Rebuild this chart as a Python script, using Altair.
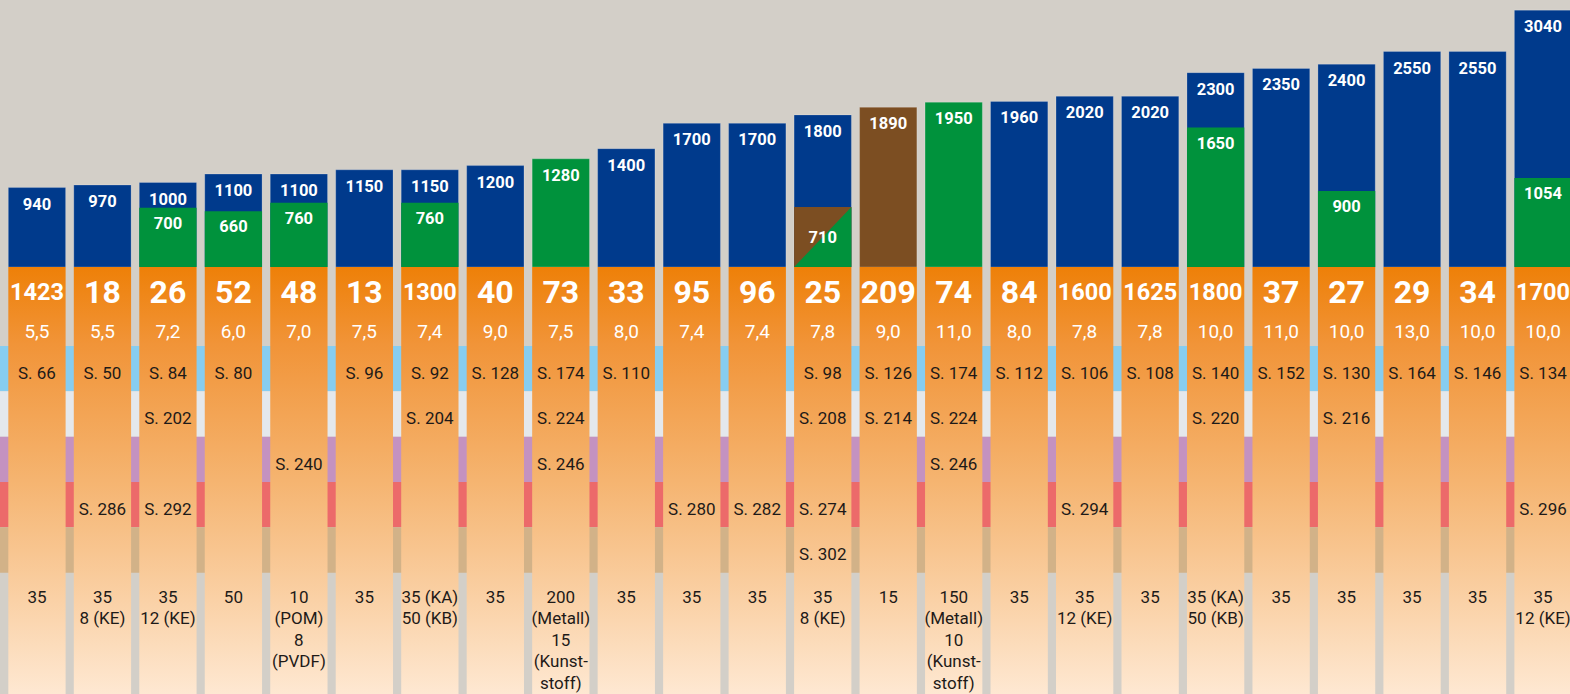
import altair as alt
import pandas as pd

# ---------------------------------------------------------------- data
totals = [940, 970, 1000, 1100, 1100, 1150, 1150, 1200, 1280, 1400, 1700, 1700,
          1800, 1890, 1950, 1960, 2020, 2020, 2300, 2350, 2400, 2550, 2550, 3040]
total_kind = ["blue"] * 24
total_kind[8] = "green"
total_kind[13] = "brown"
total_kind[14] = "green"

lower = [None, None, 700, 660, 760, None, 760, None, None, None, None, None,
         710, None, None, None, None, None, 1650, None, 900, None, None, 1054]
split = [i == 12 for i in range(24)]  # brown/green diagonal split segment

big = ["1423", "18", "26", "52", "48", "13", "1300", "40", "73", "33", "95", "96",
       "25", "209", "74", "84", "1600", "1625", "1800", "37", "27", "29", "34", "1700"]
small = ["5,5", "5,5", "7,2", "6,0", "7,0", "7,5", "7,4", "9,0", "7,5", "8,0", "7,4", "7,4",
         "7,8", "9,0", "11,0", "8,0", "7,8", "7,8", "10,0", "11,0", "10,0", "13,0", "10,0", "10,0"]

page_rows = [
    ["S. 66", "S. 50", "S. 84", "S. 80", "", "S. 96", "S. 92", "S. 128", "S. 174", "S. 110", "", "",
     "S. 98", "S. 126", "S. 174", "S. 112", "S. 106", "S. 108", "S. 140", "S. 152", "S. 130", "S. 164", "S. 146", "S. 134"],
    ["", "", "S. 202", "", "", "", "S. 204", "", "S. 224", "", "", "",
     "S. 208", "S. 214", "S. 224", "", "", "", "S. 220", "", "S. 216", "", "", ""],
    ["", "", "", "", "S. 240", "", "", "", "S. 246", "", "", "",
     "", "", "S. 246", "", "", "", "", "", "", "", "", ""],
    ["", "S. 286", "S. 292", "", "", "", "", "", "", "", "S. 280", "S. 282",
     "S. 274", "", "", "", "S. 294", "", "", "", "", "", "", "S. 296"],
    ["", "", "", "", "", "", "", "", "", "", "", "",
     "S. 302", "", "", "", "", "", "", "", "", "", "", ""],
]

bottom = ["35", "35\n8 (KE)", "35\n12 (KE)", "50", "10\n(POM)\n8\n(PVDF)", "35",
          "35 (KA)\n50 (KB)", "35", "200\n(Metall)\n15\n(Kunst-\nstoff)", "35", "35", "35",
          "35\n8 (KE)", "15", "150\n(Metall)\n10\n(Kunst-\nstoff)", "35", "35\n12 (KE)", "35",
          "35 (KA)\n50 (KB)", "35", "35", "35", "35", "35\n12 (KE)"]

band_names = ["b1", "b2", "b3", "b4", "b5"]
band_colors = ["#87cdf0", "#e4e8ec", "#c492c0", "#ec6a6a", "#d2b288"]

# ---------------------------------------------------------------- style
FONT = "Roboto, Liberation Sans, sans-serif"
BG = "#d3cfc8"
W = 1570
TOP_H = 267
BOT_H = 427

cols = list(range(24))
df = pd.DataFrame({
    "col": cols,
    "total": totals,
    "total_kind": total_kind,
    "lower": lower,
    "lower_kind": ["brown" if s else "green" for s in split],
    "split": split,
})

x_scale = alt.Scale(range=[0, 1580], paddingInner=0.125, paddingOuter=0.127)
x = alt.X("col:O", scale=x_scale, axis=None)
kind_scale = alt.Scale(domain=["blue", "green", "brown"],
                       range=["#003a8c", "#00923c", "#7c4e22"])
y_val = alt.Scale(domain=[0, 3160])

# ---------------------------------------------------------------- top: bars
base = alt.Chart(df).encode(x=x)

total_bars = base.mark_bar(clip=True, stroke="#ffffff", strokeOpacity=0.2, strokeWidth=1).encode(
    y=alt.Y("total:Q", scale=y_val, axis=None),
    color=alt.Color("total_kind:N", scale=kind_scale, legend=None),
)
lower_bars = base.transform_filter("isValid(datum.lower)").mark_bar(clip=True).encode(
    y=alt.Y("lower:Q", scale=y_val, axis=None),
    color=alt.Color("lower_kind:N", scale=kind_scale, legend=None),
)
triangle = base.transform_filter("datum.split").transform_calculate(
    mid="datum.lower / 2"
).mark_point(
    shape="M 1 -1.047 L 1 1.047 L -1 1.047 Z", filled=True, fill="#00923c",
    size=3283, strokeWidth=0, opacity=1, clip=True,
).encode(y=alt.Y("mid:Q", scale=y_val, axis=None))

label_style = dict(font=FONT, fontWeight="bold", fontSize=16.5, color="white", baseline="middle")
total_labels = base.mark_text(dy=17, **label_style).encode(
    y=alt.Y("total:Q", scale=y_val, axis=None),
    text=alt.Text("total:Q", format="d"),
)
lower_labels = base.transform_filter("isValid(datum.lower) && !datum.split").mark_text(
    dy=16, **label_style
).encode(
    y=alt.Y("lower:Q", scale=y_val, axis=None),
    text=alt.Text("lower:Q", format="d"),
)
split_labels = base.transform_filter("datum.split").transform_calculate(
    mid="datum.lower / 2"
).mark_text(dy=1, **label_style).encode(
    y=alt.Y("mid:Q", scale=y_val, axis=None),
    text=alt.Text("lower:Q", format="d"),
)

top = alt.layer(total_bars, lower_bars, triangle, total_labels, lower_labels,
                split_labels).properties(width=W, height=TOP_H)

# ---------------------------------------------------------------- bottom: table
# row coordinate: band k spans [k, k+1]
y_row = alt.Scale(domain=[-1.7424, 7.6753], reverse=True)

bands = pd.DataFrame({"band": band_names, "r0": [0, 1, 2, 3, 4], "r1": [1, 2, 3, 4, 5]})
band_rects = alt.Chart(bands).mark_rect().encode(
    x=alt.value(0), x2=alt.value("width"),
    y=alt.Y("r0:Q", scale=y_row, axis=None), y2="r1:Q",
    color=alt.Color("band:N", scale=alt.Scale(domain=band_names, range=band_colors), legend=None),
)

gradient = alt.LinearGradient(
    gradient="linear", x1=0, x2=0, y1=0, y2=1,
    stops=[
        alt.GradientStop(color="#ee8008", offset=0),
        alt.GradientStop(color="#f19438", offset=0.18),
        alt.GradientStop(color="#f5b470", offset=0.5),
        alt.GradientStop(color="#fad1a6", offset=0.78),
        alt.GradientStop(color="#fee8d2", offset=1),
    ],
)
columns = alt.Chart(df).mark_rect(fill=gradient, clip=True).encode(
    x=x, y=alt.value(0), y2=alt.value("height"),
)

BIG_ROW = -1.1733
SMALL_ROW = -0.3088
PAGE_OFFSET = 0.62
BOTTOM_ROW = 5.5514
LINE_STEP = 0.4742

big_df = pd.DataFrame({"col": cols, "text": big, "r": BIG_ROW})
small_df = pd.DataFrame({"col": cols, "text": small, "r": SMALL_ROW})

records = []
for k, row in enumerate(page_rows):
    for c, t in enumerate(row):
        if t:
            records.append({"col": c, "text": t, "r": k + PAGE_OFFSET})
for c, t in enumerate(bottom):
    for j, line in enumerate(t.split("\n")):
        records.append({"col": c, "text": line, "r": BOTTOM_ROW + j * LINE_STEP})
dark_df = pd.DataFrame(records)

big_text = alt.Chart(big_df).mark_text(
    font=FONT, fontWeight="bold", color="white", baseline="middle", clip=True
).encode(
    x=x, y=alt.Y("r:Q", scale=y_row, axis=None), text="text:N",
    size=alt.condition("length(datum.text) > 3", alt.value(23.5), alt.value(32)),
)
small_text = alt.Chart(small_df).mark_text(
    font=FONT, fontSize=19, color="white", baseline="middle", clip=True
).encode(x=x, y=alt.Y("r:Q", scale=y_row, axis=None), text="text:N")
dark_text = alt.Chart(dark_df).mark_text(
    font=FONT, fontSize=17, color="#1e1a18", baseline="middle", clip=True
).encode(x=x, y=alt.Y("r:Q", scale=y_row, axis=None), text="text:N")

bottom_panel = alt.layer(band_rects, columns, big_text, small_text, dark_text).properties(
    width=W, height=BOT_H
)

chart = alt.vconcat(top, bottom_panel, spacing=0).resolve_scale(
    color="independent"
).properties(padding=0, background=BG).configure_view(stroke=None)

chart.save("out.html", embed_options={"renderer": "svg", "actions": False})
